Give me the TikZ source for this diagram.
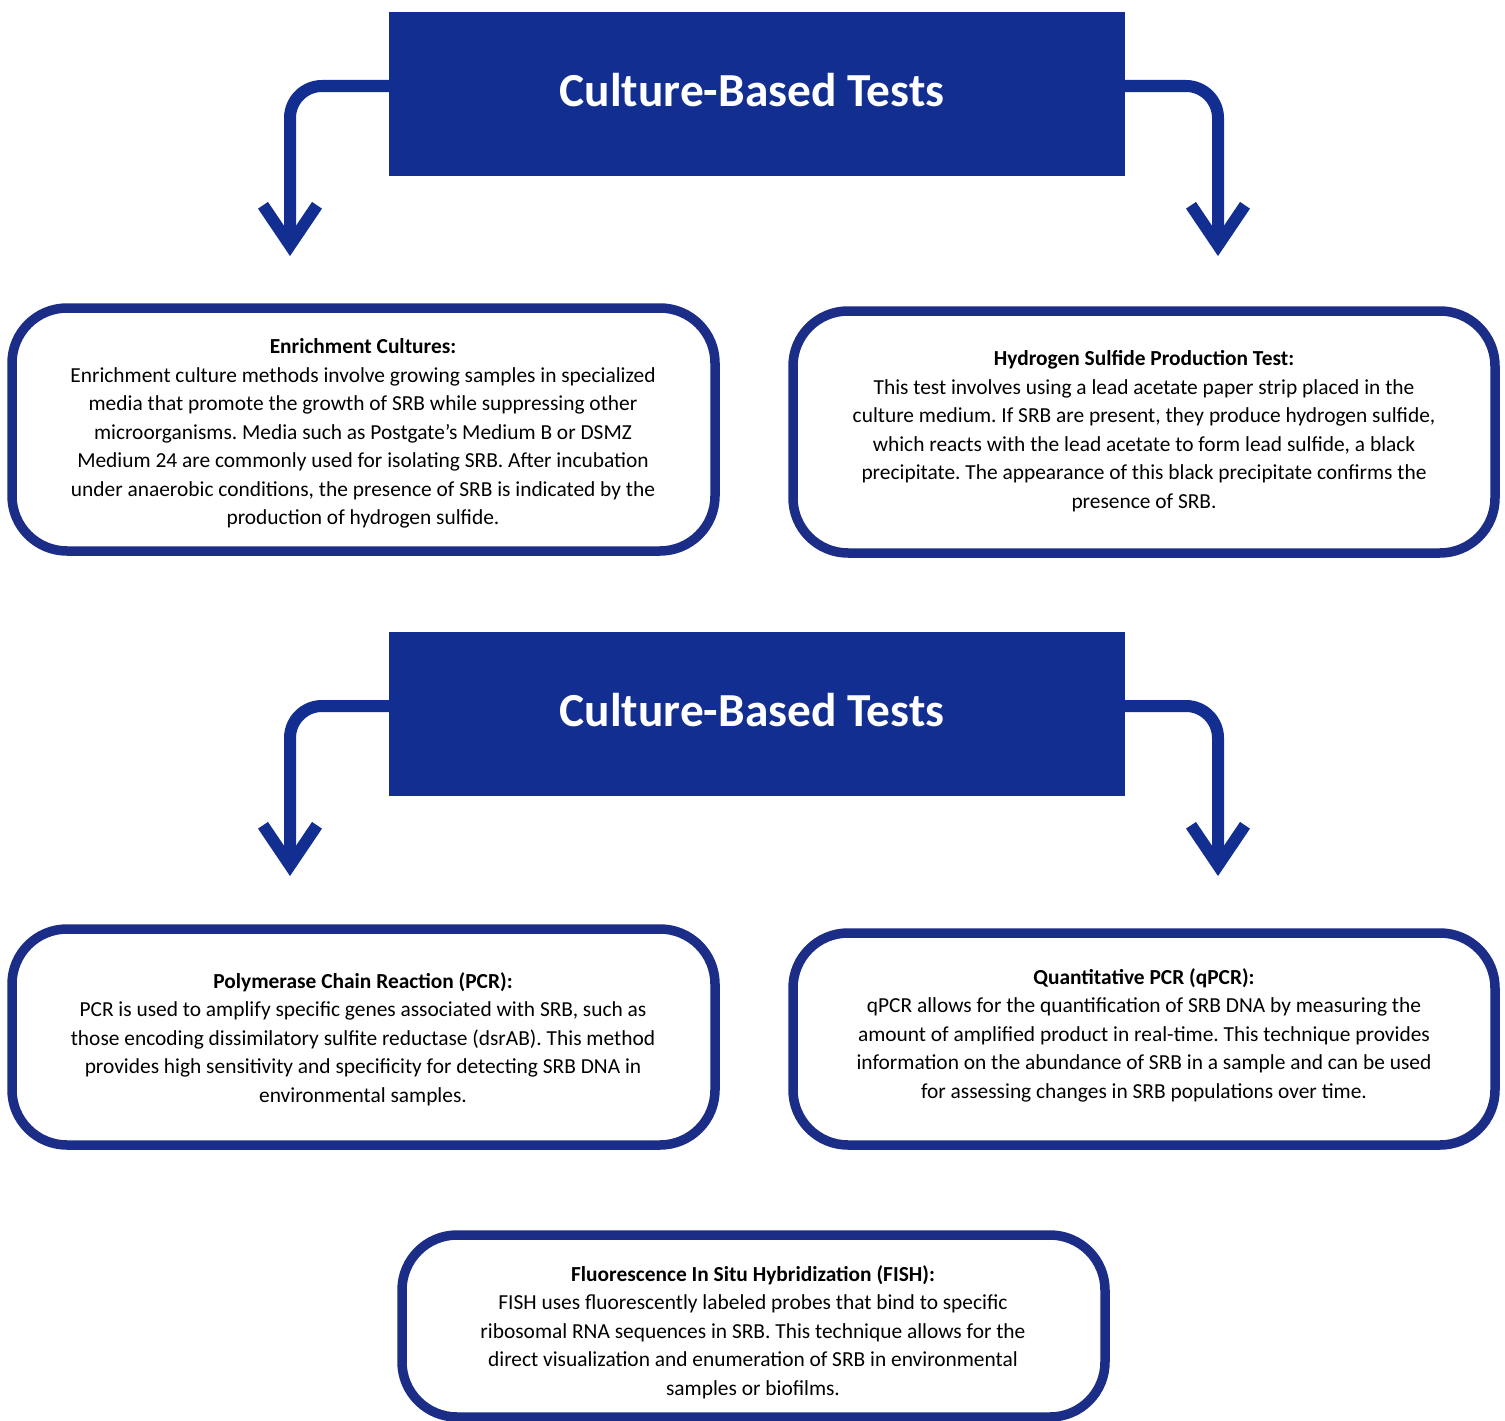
\documentclass[tikz,border=0pt]{standalone}
\usepackage{fontspec}
\setmainfont{Carlito}
\usetikzlibrary{arrows.meta}
\definecolor{hdrblue}{HTML}{132E91}
\definecolor{boxblue}{HTML}{1B2D87}
\frenchspacing
\tikzset{
  header/.style={fill=hdrblue, draw=none, minimum width=736pt, minimum height=164pt, inner sep=0pt,
    text=white, text depth=9pt, font=\fontsize{47.4}{52}\selectfont\bfseries},
  infobox/.style={draw=boxblue, line width=9.5pt, rounded corners=55pt, fill=white,
    minimum width=703pt, inner sep=0pt},
  infotext/.style={align=center, inner sep=0pt,
    font=\fontsize{21.4}{28.5}\selectfont\frenchspacing, text=black},
  flowarrow/.style={draw=hdrblue, line width=12pt, rounded corners=32pt,
    -{Straight Barb[length=40pt,width=54pt]}}
}
\begin{document}
\begin{tikzpicture}[x=1pt,y=-1pt]
\useasboundingbox (0,0) rectangle (1505,1421);
\clip (0,0) rectangle (1505,1421);

% headers
\node[header] (h1) at (757,94) {Culture-Based Tests\hspace*{10pt}};
\node[header] (h2) at (757,714) {Culture-Based Tests\hspace*{10pt}};

% boxes
\node[infobox, minimum height=243pt] (b1) at (363.5,429.5) {};
\node[infobox, minimum width=702pt, minimum height=242pt] (b2) at (1144,432) {};
\node[infobox, minimum height=216pt] (b3) at (363.5,1037) {};
\node[infobox, minimum width=702pt, minimum height=212pt] (b4) at (1144,1039) {};
\node[infobox, minimum height=182pt] (b5) at (753.5,1326) {};

% box texts
\node[infotext] (b1t) at (363,433.5) {\textbf{Enrichment Cultures:}\\
Enrichment culture methods involve growing samples in specialized\\
media that promote the growth of SRB while suppressing other\\
microorganisms. Media such as Postgate’s Medium B or DSMZ\\
Medium 24 are commonly used for isolating SRB. After incubation\\
under anaerobic conditions, the presence of SRB is indicated by the\\
production of hydrogen sulfide.};

\node[infotext] (b2t) at (1144,431) {\textbf{Hydrogen Sulfide Production Test:}\\
This test involves using a lead acetate paper strip placed in the\\
culture medium. If SRB are present, they produce hydrogen sulfide,\\
which reacts with the lead acetate to form lead sulfide, a black\\
precipitate. The appearance of this black precipitate confirms the\\
presence of SRB.};

\node[infotext] (b3t) at (363,1039) {\textbf{Polymerase Chain Reaction (PCR):}\\
PCR is used to amplify specific genes associated with SRB, such as\\
those encoding dissimilatory sulfite reductase (dsrAB). This method\\
provides high sensitivity and specificity for detecting SRB DNA in\\
environmental samples.};

\node[infotext] (b4t) at (1144,1035) {\textbf{Quantitative PCR (qPCR):}\\
qPCR allows for the quantification of SRB DNA by measuring the\\
amount of amplified product in real-time. This technique provides\\
information on the abundance of SRB in a sample and can be used\\
for assessing changes in SRB populations over time.};

\node[infotext] (b5t) at (753,1332) {\textbf{Fluorescence In Situ Hybridization (FISH):}\\
FISH uses fluorescently labeled probes that bind to specific\\
ribosomal RNA sequences in SRB. This technique allows for the\\
direct visualization and enumeration of SRB in environmental\\
samples or biofilms.};

% arrow end points
\coordinate (t1) at (290,256);
\coordinate (t2) at (1218,256);
\coordinate (t3) at (290,876);
\coordinate (t4) at (1218,876);

\draw[flowarrow] ([yshift=8pt]h1.west) -| (t1);
\draw[flowarrow] ([yshift=8pt]h1.east) -| (t2);
\draw[flowarrow] ([yshift=8pt]h2.west) -| (t3);
\draw[flowarrow] ([yshift=8pt]h2.east) -| (t4);
\end{tikzpicture}
\end{document}
